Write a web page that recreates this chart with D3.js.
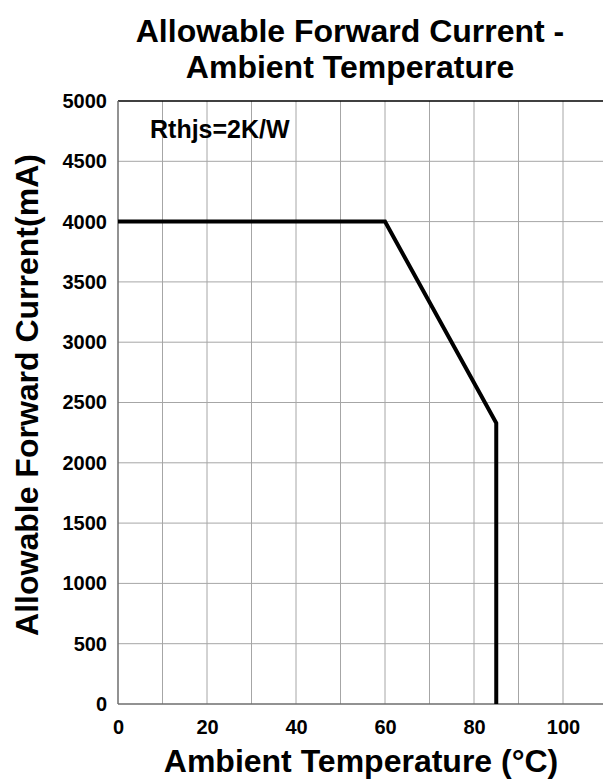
<!DOCTYPE html>
<html>
<head>
<meta charset="utf-8">
<script src="https://cdn.jsdelivr.net/npm/d3@7"></script>
<style>
  html, body { margin: 0; padding: 0; background: #fff; overflow: hidden; }
  svg { display: block; font-family: "Liberation Sans", Arial, sans-serif; font-weight: bold; }
</style>
</head>
<body>
<div id="chart"></div>
<script>
// derating curve
const tempC = [0, 60, 85, 85];
const currentMA = [4000, 4000, 2330, 0];
const xTicks = [0, 20, 40, 60, 80, 100];
const yTicks = [0, 500, 1000, 1500, 2000, 2500, 3000, 3500, 4000, 4500, 5000];
const xGrid = d3.range(0, 111, 10);

const width = 603;
const height = 783;
const margin = { top: 101, left: 118, bottom: 79 };
const plotRight = 607.5;

const svg = d3.select('#chart').append('svg')
  .attr('width', width)
  .attr('height', height);

const x = d3.scaleLinear().domain([0, 110]).range([margin.left, plotRight]);
const y = d3.scaleLinear().domain([0, 5000]).range([height - margin.bottom, margin.top]);

// grid
svg.append('g')
  .selectAll('line')
  .data(xGrid.slice(1))
  .join('line')
  .attr('x1', (d) => x(d)).attr('x2', (d) => x(d))
  .attr('y1', y(0)).attr('y2', y(5000))
  .attr('stroke', '#a6a6a6').attr('stroke-width', 1);

svg.append('g')
  .selectAll('line')
  .data(yTicks.slice(1, -1))
  .join('line')
  .attr('x1', x(0)).attr('x2', plotRight)
  .attr('y1', (d) => y(d)).attr('y2', (d) => y(d))
  .attr('stroke', '#a6a6a6').attr('stroke-width', 1);

// frame
svg.append('line')
  .attr('x1', x(0)).attr('x2', plotRight)
  .attr('y1', y(5000)).attr('y2', y(5000))
  .attr('stroke', '#000').attr('stroke-width', 1.5);
svg.append('line')
  .attr('x1', x(0)).attr('x2', x(0))
  .attr('y1', y(0)).attr('y2', y(5000))
  .attr('stroke', '#6e6e6e').attr('stroke-width', 1.5);
svg.append('line')
  .attr('x1', x(0)).attr('x2', plotRight)
  .attr('y1', y(0)).attr('y2', y(0))
  .attr('stroke', '#6e6e6e').attr('stroke-width', 1.5);

// axes labels via d3 axis, with the lines hidden
const xAxis = svg.append('g')
  .attr('transform', `translate(0,${y(0)})`)
  .call(d3.axisBottom(x).tickValues(xTicks).tickFormat(d3.format('d')).tickSize(0).tickPadding(16));
const yAxis = svg.append('g')
  .attr('transform', `translate(${x(0)},0)`)
  .call(d3.axisLeft(y).tickValues(yTicks).tickFormat(d3.format('d')).tickSize(0).tickPadding(11));
[xAxis, yAxis].forEach((g) => {
  g.select('.domain').remove();
  g.selectAll('text')
    .attr('fill', '#000')
    .style('font-size', '20px')
    .style('font-weight', 'bold')
    .style('font-family', '"Liberation Sans", Arial, sans-serif');
});

// curve
const line = d3.line().x((d) => x(d[0])).y((d) => y(d[1]));
svg.append('path')
  .datum(d3.zip(tempC, currentMA))
  .attr('d', line)
  .attr('fill', 'none')
  .attr('stroke', '#000')
  .attr('stroke-width', 4)
  .attr('stroke-linejoin', 'miter');

// texts
svg.append('text')
  .attr('x', 150).attr('y', 138)
  .style('font-size', '25px')
  .text('Rthjs=2K/W');

const title = svg.append('text')
  .attr('text-anchor', 'middle')
  .style('font-size', '32px');
title.append('tspan').attr('x', 350).attr('y', 42).text('Allowable Forward Current -');
title.append('tspan').attr('x', 350).attr('y', 78).text('Ambient Temperature');

svg.append('text')
  .attr('x', 361).attr('y', 772)
  .attr('text-anchor', 'middle')
  .style('font-size', '32px')
  .text('Ambient Temperature (°C)');

svg.append('text')
  .attr('transform', 'translate(38,395) rotate(-90)')
  .attr('text-anchor', 'middle')
  .style('font-size', '32px')
  .text('Allowable Forward Current(mA)');
</script>
</body>
</html>
